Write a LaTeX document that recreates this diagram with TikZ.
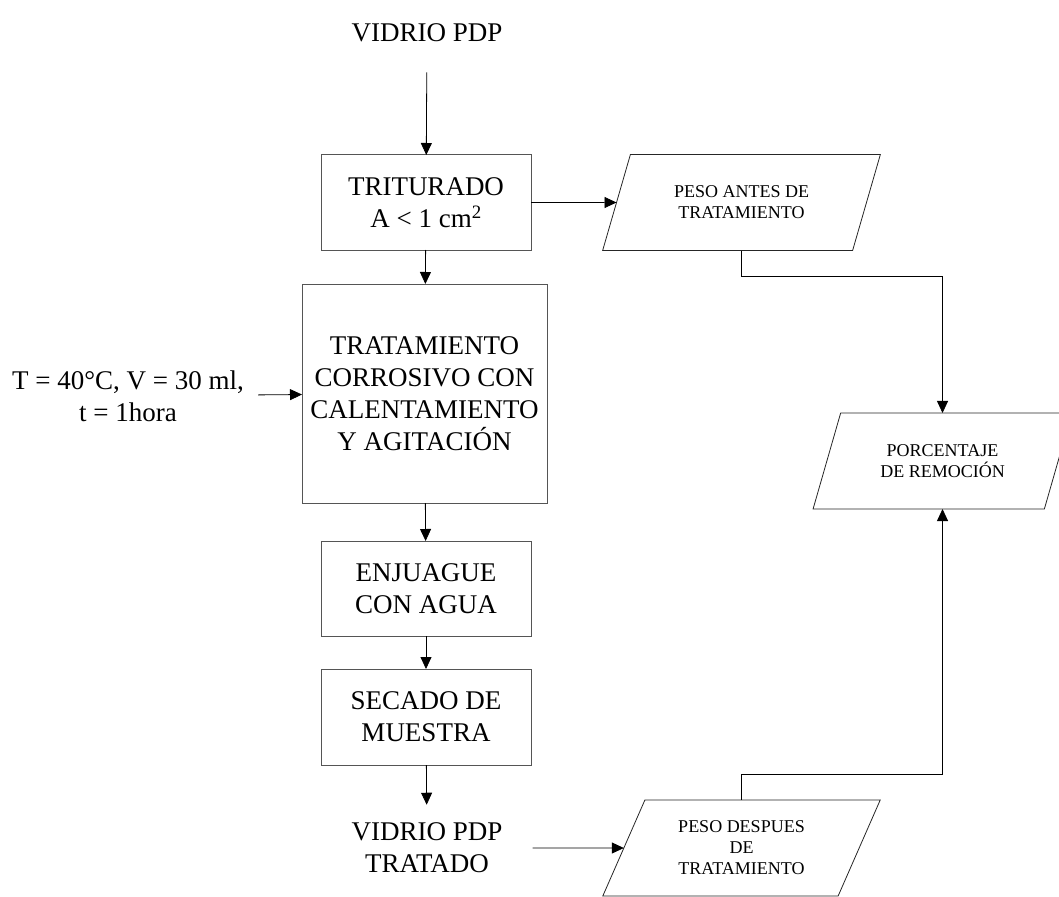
\documentclass[tikz,border=0pt]{standalone}
\usepackage{fontspec}
\setmainfont{Liberation Serif}
\usetikzlibrary{arrows.meta, shapes.geometric}
\definecolor{bordecaja}{RGB}{85,85,85}
\newcommand{\grande}{\fontsize{27}{32}\selectfont}
\newcommand{\chica}{\fontsize{18}{21}\selectfont}

\begin{document}
\begin{tikzpicture}[x=1pt, y=-1pt, font=\grande,
    caja/.style={draw=bordecaja, line width=1pt, minimum width=210pt, minimum height=95pt,
                 align=center, inner sep=0pt, outer sep=0pt},
    datos/.style={trapezium, trapezium left angle=63, trapezium right angle=117,
                  trapezium stretches=true, draw=black!85, line width=0.8pt,
                  minimum width=278pt, minimum height=96pt, align=center,
                  inner sep=0pt, outer sep=0pt, font=\chica},
    etiqueta/.style={align=center, inner sep=0pt},
    flecha/.style={-{Triangle[length=12pt, width=11pt]}, line width=0.8pt}]
    \clip (0,0) rectangle (1059,896);
    % proceso principal
    \node[etiqueta] (vin) at (427,33) {VIDRIO PDP};
    \node[caja] (tri) at (426,202.5) {TRITURADO\\A < 1 cm\textsuperscript{2}};
    \node[caja, minimum width=245pt, minimum height=219pt] (trat) at (424.5,393.5)
         {TRATAMIENTO\\CORROSIVO CON\\CALENTAMIENTO\\Y AGITACIÓN};
    \node[caja] (enj) at (426,588.5) {ENJUAGUE\\CON AGUA};
    \node[caja, minimum height=96pt] (sec) at (426,717) {SECADO DE\\MUESTRA};
    \node[etiqueta] (vout) at (427,848) {VIDRIO PDP\\TRATADO};
    \node[etiqueta] (param) at (128,396) {T = 40°C, V = 30 ml,\\t = 1hora};
    % datos de peso
    \node[datos] (antes) at (741.5,202.5) {PESO ANTES DE\\TRATAMIENTO};
    \node[datos, minimum width=259pt] (porc) at (942.5,461) {PORCENTAJE\\DE REMOCIÓN};
    \node[datos] (despues) at (741.5,848) {PESO DESPUES\\DE\\TRATAMIENTO};

    \draw[flecha, shorten <=30pt] (vin) -- (tri);
    \draw[flecha] (tri) -- (trat);
    \draw[flecha] (trat) -- (enj);
    \draw[flecha] (enj) -- (sec);
    \draw[flecha, shorten >=18pt] (sec) -- (vout);
    \draw[flecha, shorten <=14pt] (param) -- (trat);
    \draw[flecha] (tri) -- (antes);
    \draw[flecha, shorten <=30pt] (vout) -- (despues);
    \draw[flecha] (antes.south) -- ++(0,26) -| (porc.north);
    \draw[flecha] (despues.north) -- ++(0,-26) -| (porc.south);
\end{tikzpicture}
\end{document}
